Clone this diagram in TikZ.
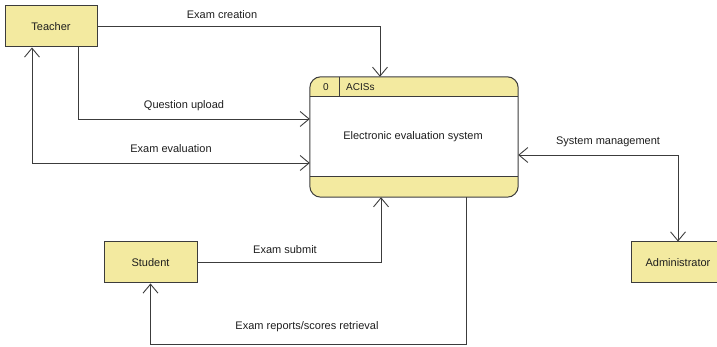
\documentclass[tikz,border=0pt]{standalone}
\usepackage{fontspec}
\setmainfont{Liberation Sans}
\usetikzlibrary{arrows.meta,calc}
\definecolor{boxfill}{RGB}{243,234,160}
\definecolor{linecol}{RGB}{60,60,60}
\definecolor{txtcol}{RGB}{30,30,30}
\tikzset{
  entity/.style={draw=linecol, line width=1pt, fill=boxfill, minimum width=92pt, minimum height=41pt, inner sep=0pt, text=txtcol, font=\fontsize{11}{13}\selectfont},
  flow/.style={draw=linecol, line width=0.9pt, -{Straight Barb[length=9pt,width=15pt,line width=0.9pt]}},
  bflow/.style={draw=linecol, line width=0.9pt, {Straight Barb[length=9pt,width=15pt,line width=0.9pt]}-{Straight Barb[length=9pt,width=15pt,line width=0.9pt]}},
  lbl/.style={text=txtcol, font=\fontsize{11}{13}\selectfont, inner sep=0pt},
  hdr/.style={text=txtcol, font=\fontsize{10}{12}\selectfont, inner sep=0pt}
}
\begin{document}
\begin{tikzpicture}[x=1pt,y=1pt]
\useasboundingbox (0,0) rectangle (717,347);
% entities
\node[entity] (t) at (51,320.5) {Teacher};
\node[entity, minimum width=93pt] (s) at (150.5,84.5) {Student};
\node[entity, minimum width=94pt] (a) at (678,84.5) {Administrator};
% process
\node[minimum width=208pt, minimum height=120pt, inner sep=0pt] (p) at (414,210) {};
\begin{scope}
  \clip[rounded corners=11pt] (p.south west) rectangle (p.north east);
  \fill[white] (p.south west) rectangle (p.north east);
  \fill[boxfill] (p.north west) rectangle ($(p.north east)+(0,-20)$);
  \fill[boxfill] (p.south west) rectangle ($(p.south east)+(0,21)$);
\end{scope}
\draw[linecol, line width=1pt] ($(p.north west)+(0,-20)$) -- ($(p.north east)+(0,-20)$);
\draw[linecol, line width=1pt] ($(p.south west)+(0,21)$) -- ($(p.south east)+(0,21)$);
\draw[linecol, line width=1pt] ($(p.north west)+(30,0)$) -- ($(p.north west)+(30,-20)$);
\draw[linecol, line width=1pt, rounded corners=11pt] (p.south west) rectangle (p.north east);
\node[hdr] (pid) at (326,260) {0};
\node[hdr, anchor=west] (pname) at (346,260) {ACISs};
\node[lbl] (ptitle) at (413,210) {Electronic evaluation system};
% flows
\draw[flow] (t.east) -| ([xshift=-34pt]p.north);
\draw[flow] ([xshift=27pt]t.south) |- ([yshift=18pt]p.west);
\draw[bflow] ([yshift=-26pt]p.west) -| ([xshift=-19pt]t.south);
\draw[bflow] ([yshift=-18pt]p.east) -| (a.north);
\draw[flow] (s.east) -| ([xshift=-33pt]p.south);
\coordinate (rc) at ($(p.south)+(52,0)$);
\coordinate (rb) at (466,3);
\draw[flow] (rc) -- (rb) -| (s.south);
% labels
\node[lbl] (l1) at (222,332) {Exam creation};
\node[lbl] (l2) at (184,241) {Question upload};
\node[lbl] (l3) at (171,198) {Exam evaluation};
\node[lbl] (l4) at (608,205) {System management};
\node[lbl] (l5) at (285,97) {Exam submit};
\node[lbl] (l6) at (307,20) {Exam reports/scores retrieval};
\end{tikzpicture}
\end{document}
